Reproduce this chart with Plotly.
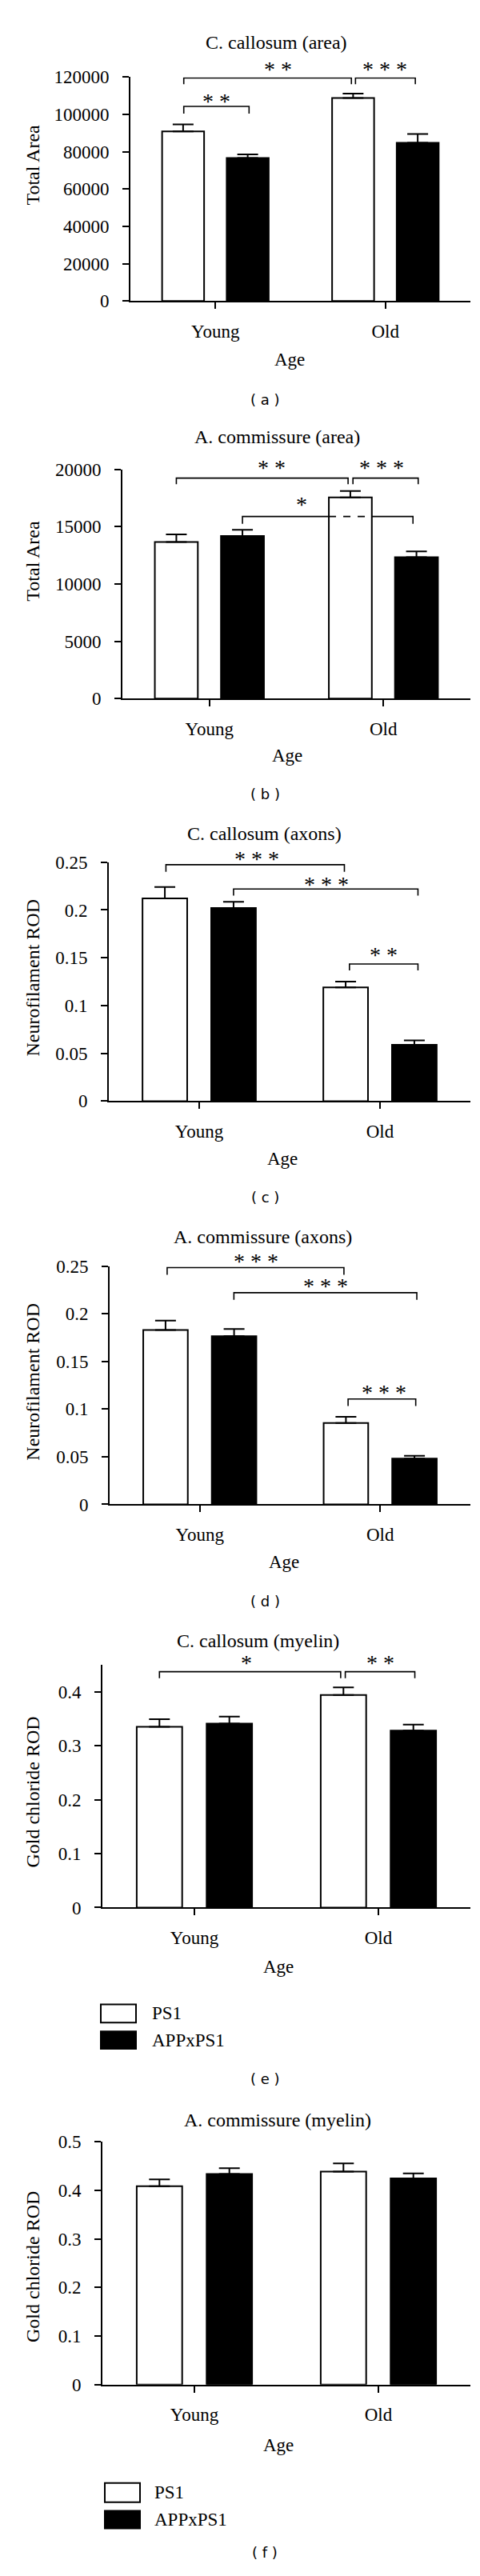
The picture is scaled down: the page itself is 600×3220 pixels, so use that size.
import plotly.graph_objects as go

# categories and series
groups = ["Young", "Old"]
series_names = ["PS1", "APPxPS1"]

# (a) C. callosum (area)
a_ps1 = [90900, 108800]
a_ps1_err = [3800, 2400]
a_app = [76600, 84800]
a_app_err = [2000, 4700]

# (b) A. commissure (area)
b_ps1 = [13650, 17540]
b_ps1_err = [670, 570]
b_app = [14180, 12330]
b_app_err = [550, 510]

# (c) C. callosum (axons)
c_ps1 = [0.212, 0.119]
c_ps1_err = [0.012, 0.006]
c_app = [0.202, 0.059]
c_app_err = [0.0065, 0.0045]

# (d) A. commissure (axons)
d_ps1 = [0.183, 0.0855]
d_ps1_err = [0.010, 0.0065]
d_app = [0.1765, 0.048]
d_app_err = [0.0075, 0.003]

# (e) C. callosum (myelin)
e_ps1 = [0.335, 0.394]
e_ps1_err = [0.014, 0.014]
e_app = [0.341, 0.328]
e_app_err = [0.013, 0.011]

# (f) A. commissure (myelin)
f_ps1 = [0.4085, 0.4385]
f_ps1_err = [0.014, 0.017]
f_app = [0.4335, 0.4245]
f_app_err = [0.012, 0.0105]

W, H = 600, 3220
SERIF = "Liberation Serif"
BARGAP, GROUPGAP = 0.24, 0.35
OFF = (1 - BARGAP) / 4                       # bar centre offset from group centre
HALF_W = (1 - BARGAP) / 2 * (1 - GROUPGAP) / 2  # half bar width

panels = [
    dict(ps1=a_ps1, ps1_err=a_ps1_err, app=a_app, app_err=a_app_err,
         title="C. callosum (area)", ytitle="Total Area", tag="( a )",
         yrange=[0, 120000], dtick=20000, fmt="d",
         left=155, top=77, bottom=359,
         title_xy=(337, 33), ytitle_y=188, age_xy=(354, 433), tag_y=483,
         brackets=[
             dict(x0=-0.186, x1=0.80, y=119500, yt=116200, text="* *", tx=0.367, lift=15),
             dict(x0=0.824, x1=1.176, y=119500, yt=116200, text="* * *", tx=0.998, lift=15),
             dict(x0=-0.186, x1=0.198, y=104300, yt=100400, text="* *", tx=0.005, lift=11),
         ]),
    dict(ps1=b_ps1, ps1_err=b_ps1_err, app=b_app, app_err=b_app_err,
         title="A. commissure (area)", ytitle="Total Area", tag="( b )",
         yrange=[0, 20000], dtick=5000, fmt="d",
         left=145, top=571, bottom=860,
         title_xy=(339, 530), ytitle_y=687, age_xy=(351, 932), tag_y=980,
         brackets=[
             dict(x0=-0.19, x1=0.797, y=19230, yt=18700, text="* *", tx=0.356, lift=17),
             dict(x0=0.825, x1=1.20, y=19230, yt=18700, text="* * *", tx=0.991, lift=17),
             dict(x0=0.19, x1=1.17, y=15880, yt=15240, text="*", tx=0.531, lift=19, behind=True),
         ]),
    dict(ps1=c_ps1, ps1_err=c_ps1_err, app=c_app, app_err=c_app_err,
         title="C. callosum (axons)", ytitle="Neurofilament ROD", tag="( c )",
         yrange=[0, 0.25], dtick=0.05, fmt="",
         left=128, top=1066, bottom=1367,
         title_xy=(322, 1030), ytitle_y=1212, age_xy=(345, 1440), tag_y=1488,
         brackets=[
             dict(x0=-0.184, x1=0.803, y=0.2474, yt=0.240, text="* * *", tx=0.317, lift=11),
             dict(x0=0.19, x1=1.21, y=0.2219, yt=0.215, text="* * *", tx=0.705, lift=10),
             dict(x0=0.831, x1=1.21, y=0.1434, yt=0.1368, text="* *", tx=1.021, lift=16),
         ]),
    dict(ps1=d_ps1, ps1_err=d_ps1_err, app=d_app, app_err=d_app_err,
         title="A. commissure (axons)", ytitle="Neurofilament ROD", tag="( d )",
         yrange=[0, 0.25], dtick=0.05, fmt="",
         left=129, top=1575, bottom=1875,
         title_xy=(320, 1538), ytitle_y=1721, age_xy=(347, 1948), tag_y=1997,
         brackets=[
             dict(x0=-0.181, x1=0.799, y=0.2486, yt=0.241, text="* * *", tx=0.31, lift=12),
             dict(x0=0.189, x1=1.203, y=0.2222, yt=0.2147, text="* * *", tx=0.696, lift=12),
             dict(x0=0.822, x1=1.197, y=0.1106, yt=0.1033, text="* * *", tx=1.02, lift=12),
         ]),
    dict(ps1=e_ps1, ps1_err=e_ps1_err, app=e_app, app_err=e_app_err,
         title="C. callosum (myelin)", ytitle="Gold chloride ROD", tag="( e )",
         yrange=[0, 0.45], dtick=0.1, fmt="",
         left=120, top=2077, bottom=2383,
         title_xy=(314, 2047), ytitle_y=2238, age_xy=(340, 2458), tag_y=2599,
         legend=dict(bx=(118, 162), rows=[(2505, 2528), (2539, 2561)], tx=180),
         brackets=[
             dict(x0=-0.19, x1=0.795, y=0.437, yt=0.4248, text="*", tx=0.283, lift=15),
             dict(x0=0.82, x1=1.198, y=0.437, yt=0.4248, text="* *", tx=1.012, lift=15),
         ]),
    dict(ps1=f_ps1, ps1_err=f_ps1_err, app=f_app, app_err=f_app_err,
         title="A. commissure (myelin)", ytitle="Gold chloride ROD", tag="( f )",
         yrange=[0, 0.5], dtick=0.1, fmt="",
         left=120, top=2678, bottom=2984,
         title_xy=(339, 2651), ytitle_y=2836, age_xy=(340, 3060), tag_y=3195,
         legend=dict(bx=(123, 167), rows=[(3108, 3132), (3143, 3165)], tx=183),
         brackets=[]),
]


def fx(px):
    return px / W


def fy(py):
    return 1 - py / H


fig = go.Figure()
shapes = []
annotations = []
layout_axes = {}
xpos = list(range(len(groups)))

for i, p in enumerate(panels, start=1):
    xa = "x" if i == 1 else f"x{i}"
    ya = "y" if i == 1 else f"y{i}"

    for vals, errs, fill in [(p["ps1"], p["ps1_err"], "white"), (p["app"], p["app_err"], "black")]:
        fig.add_trace(go.Bar(
            x=xpos, y=vals, xaxis=xa, yaxis=ya, showlegend=False,
            marker=dict(color=fill, line=dict(color="black", width=2)),
            error_y=dict(type="data", array=errs, arrayminus=[0] * len(errs), symmetric=False,
                         color="black", thickness=2, width=13),
        ))

    layout_axes["xaxis" if i == 1 else f"xaxis{i}"] = dict(
        domain=[fx(p["left"]), fx(580)], anchor=ya, range=[-0.5, 1.5],
        tickmode="array", tickvals=xpos, ticktext=groups,
        showline=True, linecolor="black", linewidth=2,
        ticks="outside", ticklen=8, tickwidth=2, tickcolor="black",
        ticklabelstandoff=8,
        tickfont=dict(family=SERIF, size=23, color="black"),
        showgrid=False, zeroline=False, fixedrange=True,
    )
    layout_axes["yaxis" if i == 1 else f"yaxis{i}"] = dict(
        domain=[fy(p["bottom"]), fy(p["top"])], anchor=xa, range=p["yrange"],
        tickmode="linear", tick0=0, dtick=p["dtick"], tickformat=p["fmt"],
        showline=True, linecolor="black", linewidth=2,
        ticks="outside", ticklen=8, tickwidth=2, tickcolor="black",
        ticklabelstandoff=12,
        tickfont=dict(family=SERIF, size=23, color="black"),
        showgrid=False, zeroline=False, fixedrange=True,
    )

    # text around the panel
    tx, ty = p["title_xy"]
    annotations.append(dict(text=p["title"], x=fx(tx), y=fy(ty), xref="paper", yref="paper",
                            showarrow=False, xanchor="center", yanchor="middle",
                            font=dict(family=SERIF, size=24, color="black")))
    annotations.append(dict(text=p["ytitle"], x=fx(33), y=fy(p["ytitle_y"]), xref="paper", yref="paper",
                            showarrow=False, textangle=-90, xanchor="center", yanchor="middle",
                            font=dict(family=SERIF, size=24, color="black")))
    ax_, ay_ = p["age_xy"]
    annotations.append(dict(text="Age", x=fx(ax_), y=fy(ay_), xref="paper", yref="paper",
                            showarrow=False, xanchor="center", yanchor="middle",
                            font=dict(family=SERIF, size=23, color="black")))
    annotations.append(dict(text=p["tag"], x=fx(323), y=fy(p["tag_y"]), xref="paper", yref="paper",
                            showarrow=False, xanchor="center", yanchor="middle",
                            font=dict(family="DejaVu Sans", size=18, color="black")))

    # significance brackets
    for b in p["brackets"]:
        path = f"M {b['x0']},{b['yt']} L {b['x0']},{b['y']} L {b['x1']},{b['y']} L {b['x1']},{b['yt']}"
        shapes.append(dict(type="path", path=path, xref=xa, yref=ya,
                           line=dict(color="black", width=1.6),
                           layer="below" if b.get("behind") else "above"))
        if b.get("behind"):
            # part of the bracket seen through the old PS1 bar
            shapes.append(dict(type="line", xref=xa, yref=ya,
                               x0=1 - OFF - HALF_W, x1=1 - OFF + HALF_W, y0=b["y"], y1=b["y"],
                               line=dict(color="black", width=1.6, dash="dash"), layer="above"))
        annotations.append(dict(text=b["text"], x=b["tx"], y=b["y"], xref=xa, yref=ya,
                                showarrow=False, xanchor="center", yanchor="middle",
                                yshift=b["lift"] - 4,
                                font=dict(family=SERIF, size=28, color="black")))

    # legend boxes
    if "legend" in p:
        lg = p["legend"]
        for (y0, y1), fill, name in zip(lg["rows"], ["white", "black"], series_names):
            shapes.append(dict(type="rect", xref="paper", yref="paper",
                               x0=fx(lg["bx"][0]), x1=fx(lg["bx"][1]), y0=fy(y1), y1=fy(y0),
                               fillcolor=fill, line=dict(color="black", width=2)))
            annotations.append(dict(text=name, x=fx(lg["tx"]), y=fy((y0 + y1) / 2),
                                    xref="paper", yref="paper", showarrow=False,
                                    xanchor="left", yanchor="middle",
                                    font=dict(family=SERIF, size=23, color="black")))

fig.update_layout(
    width=W, height=H, autosize=False,
    margin=dict(l=0, r=0, t=0, b=0),
    paper_bgcolor="white", plot_bgcolor="rgba(0,0,0,0)",
    barmode="group", bargap=BARGAP, bargroupgap=GROUPGAP,
    shapes=shapes, annotations=annotations,
    **layout_axes,
)

fig.write_html("out.html")
